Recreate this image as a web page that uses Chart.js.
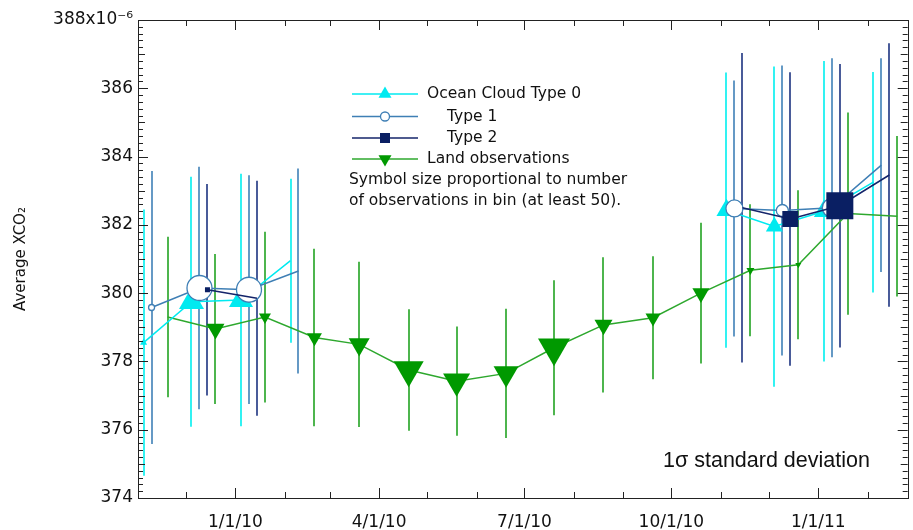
<!DOCTYPE html>
<html>

<head>
    <title>Average XCO2</title>
    <script src="https://cdn.jsdelivr.net/npm/chart.js"></script>
    <style>
        body {
            margin: 0;
            background: #ffffff;
        }

        #wrap {
            width: 913px;
            height: 530px;
        }
    </style>
</head>

<body>
    <div id="wrap"><canvas id="xco2Chart" width="913" height="530"></canvas></div>

    <script>
        // Ocean cloud type 0 (bin date, mean XCO2, 1 sigma, number of observations)
        var cyanDates = ['2009-11-04', '2009-12-04', '2010-01-04', '2010-02-04', '2010-11-04', '2010-12-04', '2011-01-04', '2011-02-04'];
        var cyanValues = [378.55, 379.75, 379.8, 380.95, 382.43, 381.95, 382.4, 383.25];
        var cyanSigma = [3.9, 3.66, 3.7, 2.4, 4.03, 4.69, 4.4, 3.23];
        var cyanCounts = [140, 500, 480, 0, 400, 340, 400, 0];

        // Ocean cloud type 1
        var type1Dates = ['2009-11-09', '2009-12-09', '2010-01-09', '2010-02-09', '2010-11-09', '2010-12-09', '2011-01-09', '2011-02-09'];
        var type1Values = [379.58, 380.15, 380.1, 380.65, 382.48, 382.42, 382.5, 383.75];
        var type1Sigma = [4.0, 3.55, 3.35, 3.0, 3.75, 4.25, 4.38, 3.13];
        var type1Counts = [120, 500, 500, 0, 340, 240, 380, 0];

        // Ocean cloud type 2
        var type2Dates = ['2009-12-14', '2010-01-14', '2010-11-14', '2010-12-14', '2011-01-14', '2011-02-14'];
        var type2Values = [380.1, 379.85, 382.5, 382.17, 382.56, 383.46];
        var type2Sigma = [3.1, 3.44, 4.53, 4.3, 4.15, 3.86];
        var type2Counts = [100, 0, 0, 320, 540, 0];

        // Land observations
        var landDates = ['2009-11-19', '2009-12-19', '2010-01-19', '2010-02-19', '2010-03-19', '2010-04-19', '2010-05-19', '2010-06-19',
            '2010-07-19', '2010-08-19', '2010-09-19', '2010-10-19', '2010-11-19', '2010-12-19', '2011-01-19', '2011-02-19'];
        var landValues = [379.3, 378.95, 379.3, 378.7, 378.5, 377.75, 377.42, 377.65, 378.4, 379.07, 379.28, 380.0, 380.67, 380.83, 382.33, 382.25];
        var landSigma = [2.35, 2.2, 2.5, 2.6, 2.42, 1.78, 1.6, 1.89, 1.98, 1.98, 1.8, 2.06, 1.93, 2.18, 2.96, 2.35];
        var landCounts = [0, 360, 240, 300, 420, 600, 540, 500, 640, 360, 300, 340, 160, 120, 120, 0];

        // axis range and labels
        var xAxisStart = '2009-11-01';
        var xAxisEnd = '2011-02-26';
        var xLabelDates = ['2010-01-01', '2010-04-01', '2010-07-01', '2010-10-01', '2011-01-01'];
        var yMin = 374;
        var yMax = 388;

        var START = Date.UTC(2009, 10, 1);
        var OBS_PER_PX = 20; // symbol size proportional to number of observations

        function dayOf(s, hour) {
            var p = s.split('-');
            return (Date.UTC(+p[0], +p[1] - 1, +p[2], hour || 0) - START) / 86400000;
        }

        // points with a break where months are missing
        function buildPoints(dates, values, counts) {
            var pts = [];
            for (var i = 0; i < dates.length; i++) {
                var d = dayOf(dates[i], 12);
                if (i > 0 && d - dayOf(dates[i - 1], 12) > 45) {
                    pts.push({ x: d - 20, y: null, n: 0 });
                }
                pts.push({ x: d, y: values[i], n: counts[i] });
            }
            return pts;
        }

        var series = [
            { dates: cyanDates, values: cyanValues, sigma: cyanSigma, bar: '#0ff0f0' },
            { dates: type1Dates, values: type1Values, sigma: type1Sigma, bar: '#4a88bb' },
            { dates: type2Dates, values: type2Values, sigma: type2Sigma, bar: '#2a3f88' },
            { dates: landDates, values: landValues, sigma: landSigma, bar: '#2fa82f' }
        ];

        function size(ctx) {
            return ctx.raw && ctx.raw.n >= 50 ? ctx.raw.n / OBS_PER_PX : 0;
        }

        var errorBarPlugin = {
            id: 'errorBars',
            beforeDatasetsDraw: function (chart) {
                var ctx = chart.ctx, xs = chart.scales.x, ys = chart.scales.y;
                ctx.save();
                ctx.lineWidth = 1.7;
                series.forEach(function (s) {
                    ctx.strokeStyle = s.bar;
                    for (var i = 0; i < s.dates.length; i++) {
                        var x = Math.round(xs.getPixelForValue(dayOf(s.dates[i], 12)));
                        ctx.beginPath();
                        ctx.moveTo(x, ys.getPixelForValue(s.values[i] - s.sigma[i]));
                        ctx.lineTo(x, ys.getPixelForValue(s.values[i] + s.sigma[i]));
                        ctx.stroke();
                    }
                });
                ctx.restore();
            }
        };

        function drawMarker(ctx, style, x, y, r) {
            ctx.beginPath();
            if (style === 'up' || style === 'down') {
                var s = style === 'up' ? -1 : 1;
                ctx.moveTo(x, y + s * r);
                ctx.lineTo(x - r * 0.866, y - s * r / 2);
                ctx.lineTo(x + r * 0.866, y - s * r / 2);
                ctx.closePath();
            } else if (style === 'circle') {
                ctx.arc(x, y, r, 0, Math.PI * 2);
            } else {
                ctx.rect(x - r, y - r, 2 * r, 2 * r);
            }
        }

        // frame with inward ticks on all four sides, legend and note
        var framePlugin = {
            id: 'frame',
            afterDraw: function (chart) {
                var ctx = chart.ctx, a = chart.chartArea, xs = chart.scales.x, ys = chart.scales.y;
                ctx.save();
                ctx.strokeStyle = '#222';
                ctx.lineWidth = 1;
                ctx.strokeRect(Math.round(a.left) + 0.5, Math.round(a.top) + 0.5, Math.round(a.right - a.left), Math.round(a.bottom - a.top));
                ctx.beginPath();
                for (var y = 2009, m = 10; y * 12 + m <= 2011 * 12 + 1; m++) {
                    if (m > 11) { m = 0; y++; }
                    var x = Math.round(xs.getPixelForValue((Date.UTC(y, m, 1) - START) / 86400000)) + 0.5;
                    var len = m % 3 === 0 ? 10 : 6;
                    ctx.moveTo(x, a.bottom); ctx.lineTo(x, a.bottom - len);
                    ctx.moveTo(x, a.top); ctx.lineTo(x, a.top + len);
                }
                for (var k = 0; k <= (yMax - yMin) * 5; k++) {
                    var v = yMin + k * 0.2;
                    var py = Math.round(ys.getPixelForValue(v)) + 0.5;
                    var l = k % 10 === 0 ? 10 : (k % 5 === 0 ? 7 : 5);
                    ctx.moveTo(a.left, py); ctx.lineTo(a.left + l, py);
                    ctx.moveTo(a.right, py); ctx.lineTo(a.right - l, py);
                }
                ctx.stroke();

                // legend
                var rows = [
                    { text: 'Ocean Cloud Type 0', tx: 427, color: '#00eaf0', fill: '#00eaf0', style: 'up', r: 7.5 },
                    { text: 'Type 1', tx: 447, color: '#3f7fb5', fill: '#ffffff', style: 'circle', r: 4.5 },
                    { text: 'Type 2', tx: 447, color: '#14246a', fill: '#0a1f63', style: 'rect', r: 5 },
                    { text: 'Land observations', tx: 427, color: '#2ea82e', fill: '#009900', style: 'down', r: 7.5 }
                ];
                var rowY = [94, 116.5, 138, 159];
                ctx.font = '15.5px "DejaVu Sans"';
                ctx.textBaseline = 'middle';
                rows.forEach(function (r, i) {
                    var yy = rowY[i];
                    ctx.strokeStyle = r.color;
                    ctx.lineWidth = 1.5;
                    ctx.beginPath(); ctx.moveTo(352, yy); ctx.lineTo(418, yy); ctx.stroke();
                    drawMarker(ctx, r.style, 385, yy, r.r);
                    ctx.fillStyle = r.fill;
                    ctx.fill();
                    if (r.style === 'circle') { ctx.lineWidth = 1.3; ctx.stroke(); }
                    ctx.fillStyle = '#111';
                    ctx.fillText(r.text, r.tx, yy);
                });
                ctx.fillText('Symbol size proportional to number', 349, 180);
                ctx.fillText('of observations in bin (at least 50).', 349, 201);

                ctx.font = '21.5px "Liberation Sans"';
                ctx.fillText('1\u03c3 standard deviation', 663, 461);
                ctx.restore();
            }
        };

        var chart = new Chart(document.getElementById('xco2Chart').getContext('2d'), {
            type: 'line',
            data: {
                datasets: [{
                    label: 'Ocean Cloud Type 0',
                    data: buildPoints(cyanDates, cyanValues, cyanCounts),
                    borderColor: '#00eaf0',
                    backgroundColor: '#00eaf0',
                    borderWidth: 1.5,
                    pointStyle: 'triangle',
                    pointBorderWidth: 0,
                    pointRadius: function (c) { return size(c) / Math.sqrt(3); },
                    order: 2
                }, {
                    label: 'Type 1',
                    data: buildPoints(type1Dates, type1Values, type1Counts),
                    borderColor: '#3f7fb5',
                    backgroundColor: '#ffffff',
                    borderWidth: 1.5,
                    pointStyle: 'circle',
                    pointBorderWidth: 1.3,
                    pointRadius: function (c) { return size(c) / 2; },
                    order: 1
                }, {
                    label: 'Type 2',
                    data: buildPoints(type2Dates, type2Values, type2Counts),
                    borderColor: '#14246a',
                    backgroundColor: '#0a1f63',
                    borderWidth: 1.5,
                    pointStyle: 'rect',
                    pointBorderWidth: 0,
                    pointRadius: function (c) { return size(c) / Math.SQRT2; },
                    order: 0
                }, {
                    label: 'Land observations',
                    data: buildPoints(landDates, landValues, landCounts),
                    borderColor: '#2ea82e',
                    backgroundColor: '#009900',
                    borderWidth: 1.5,
                    pointStyle: 'triangle',
                    pointRotation: 180,
                    pointBorderWidth: 0,
                    pointRadius: function (c) { return size(c) / Math.sqrt(3); },
                    order: 3
                }]
            },
            options: {
                responsive: false,
                animation: false,
                spanGaps: false,
                layout: { padding: { top: 20, right: 2, left: 0, bottom: 0 } },
                plugins: {
                    legend: { display: false },
                    tooltip: { enabled: false }
                },
                scales: {
                    x: {
                        type: 'linear',
                        min: dayOf(xAxisStart),
                        max: dayOf(xAxisEnd),
                        grid: { display: false, drawTicks: false },
                        border: { display: false },
                        afterBuildTicks: function (scale) {
                            scale.ticks = xLabelDates.map(function (d) { return { value: dayOf(d) }; });
                        },
                        afterFit: function (scale) {
                            scale.height = 32;
                            scale.paddingLeft = 0;
                            scale.paddingRight = 0;
                        },
                        ticks: {
                            autoSkip: false,
                            maxRotation: 0,
                            padding: 14,
                            color: '#111',
                            font: { family: 'DejaVu Sans', size: 17 },
                            callback: function (v) {
                                var d = new Date(START + v * 86400000);
                                return (d.getUTCMonth() + 1) + '/' + d.getUTCDate() + '/' + String(d.getUTCFullYear()).slice(2);
                            }
                        }
                    },
                    y: {
                        min: yMin,
                        max: yMax,
                        grid: { display: false, drawTicks: false },
                        border: { display: false },
                        afterFit: function (scale) {
                            scale.width = 138;
                            scale.paddingTop = 0;
                            scale.paddingBottom = 0;
                        },
                        title: {
                            display: true,
                            text: 'Average XCO\u2082',
                            color: '#111',
                            font: { family: 'DejaVu Sans', size: 15 },
                            padding: { top: 12, bottom: 0 }
                        },
                        ticks: {
                            stepSize: 2,
                            padding: 5,
                            color: '#111',
                            font: { family: 'DejaVu Sans', size: 17 },
                            callback: function (v) { return v === yMax ? v + 'x10\u207b\u2076' : v; }
                        }
                    }
                }
            },
            plugins: [errorBarPlugin, framePlugin]
        });
    </script>
</body>

</html>
